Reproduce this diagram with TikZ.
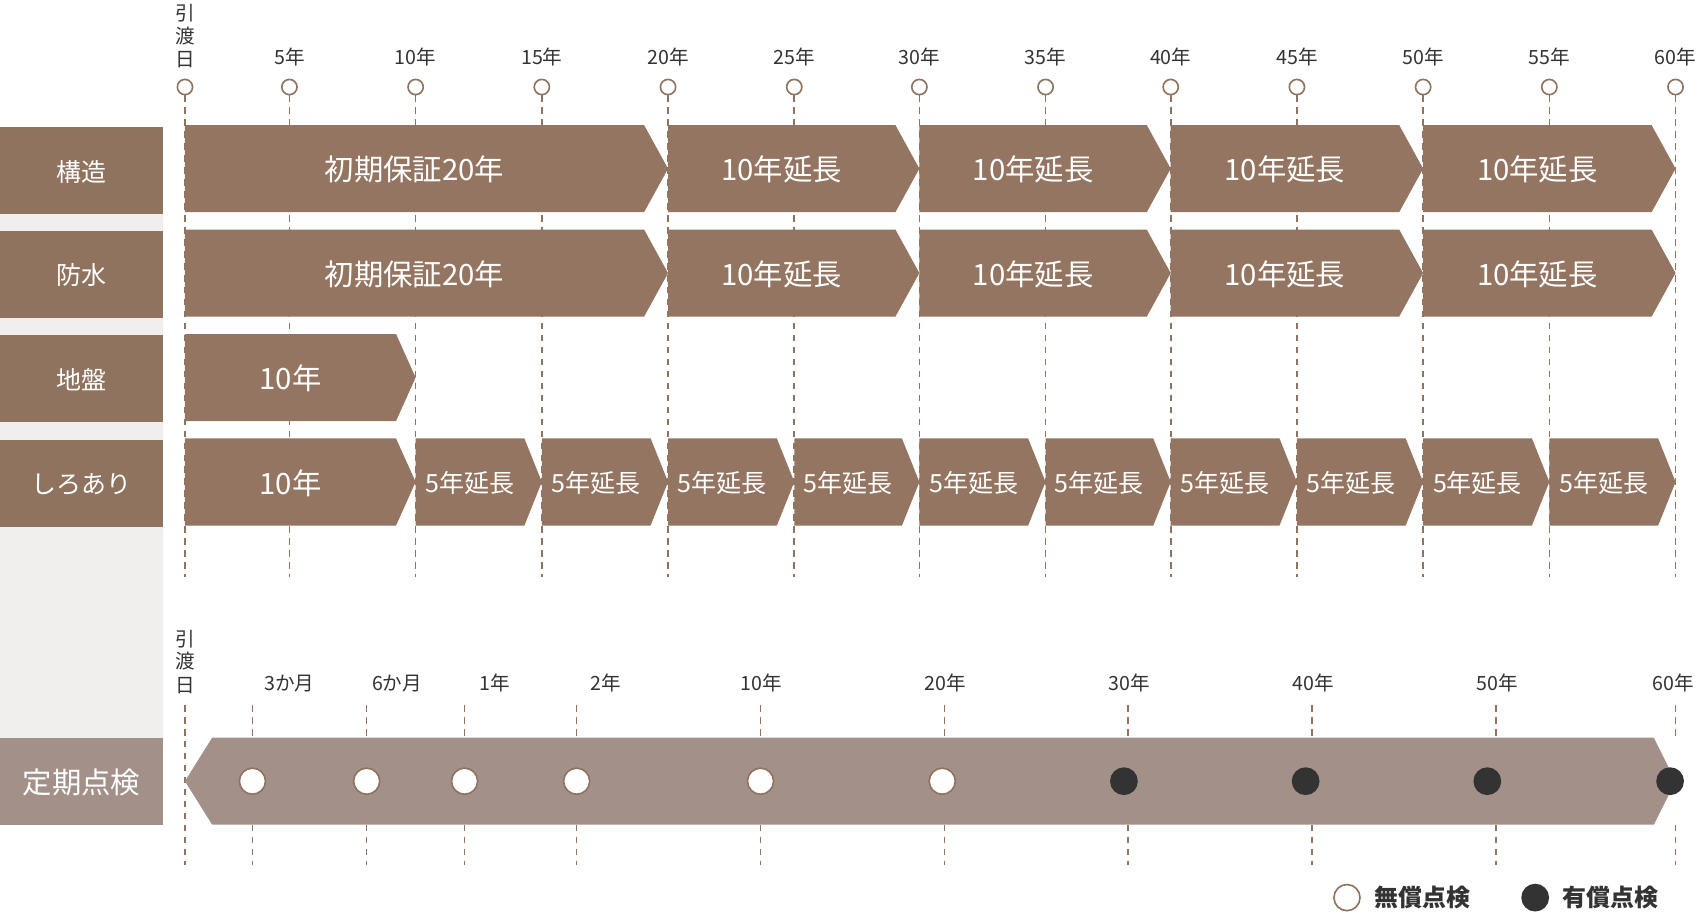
\documentclass[tikz,border=0pt]{standalone}
\usepackage{fontspec}
\setmainfont{Noto Sans CJK JP}
\definecolor{brn}{HTML}{937561}
\definecolor{lbl}{HTML}{8F735E}
\definecolor{pale}{HTML}{A39189}
\definecolor{bgg}{HTML}{F0EFED}
\definecolor{dk}{HTML}{333333}
\begin{document}
\begin{tikzpicture}[x=1pt,y=-1pt,
  dline/.style={lbl,line width=1.5pt,dash pattern=on 6pt off 5pt},
  tick/.style={text=dk,font=\fontsize{18}{18}\selectfont,inner sep=0},
  ring/.style={circle,draw=lbl,line width=1.5pt,fill=white,inner sep=0},
  dot/.style={circle,fill=dk,draw=dk,line width=1.5pt,inner sep=0},
  lab/.style={text=white,font=\fontsize{23}{23}\selectfont,inner sep=0},
  big/.style={text=white,font=\fontsize{27}{27}\selectfont,inner sep=0},
  mid/.style={text=white,font=\fontsize{23}{23}\selectfont,inner sep=0}]
\useasboundingbox (0,0) rectangle (1568,842);
\fill[white] (0,0) rectangle (1568,842);
\fill[bgg] (0,117) rectangle (150,758);
% top ticks
\def\xs{{170,266,382,498,614,730,845,961,1076,1192,1308,1424,1540}}
\foreach \i/\t in {1/5年,2/10年,3/15年,4/20年,5/25年,6/30年,7/35年,8/40年,9/45年,10/50年,11/55年,12/60年}{
  \pgfmathsetmacro\xx{\xs[\i]}
  \node[tick] (t\i) at (\xx,52) {\t};
}
\foreach \i in {0,...,12}{
  \pgfmathsetmacro\xx{\xs[\i]}
  \node[ring,minimum size=14pt] (c\i) at (\xx,80) {};
  \coordinate (e\i) at (\xx,530);
  \draw[dline] (c\i.south) -- (e\i);
}
\node[tick] (h1) at (170,12) {引};
\node[tick] (h2) at (170,33) {渡};
\node[tick] (h3) at (170,55) {日};
% labels
\foreach \n/\y/\t in {a/117/構造,b/212/防水,c/308/地盤,d/404/しろあり}{
  \fill[lbl] (0,\y) rectangle (150,\y+80);
  \node[lab] (L\n) at (75,\y+41) {\t};
}
% chevrons
\newcommand\chev[6]{% x1 x2 ytop tip style text
  \fill[brn] (#1,#3) -- (#2-#4,#3) -- (#2,#3+40) -- (#2-#4,#3+80) -- (#1,#3+80) -- cycle;
  \node[#5] at ({(#1+#2-#4)/2},#3+41) {#6};}
\foreach \y in {115,211}{
  \chev{170}{614}{\y}{22}{big}{初期保証20年}
  \chev{614}{845}{\y}{22}{big}{10年延長}
  \chev{845}{1076}{\y}{22}{big}{10年延長}
  \chev{1076}{1308}{\y}{22}{big}{10年延長}
  \chev{1308}{1540}{\y}{22}{big}{10年延長}
}
\chev{170}{382}{307}{18}{big}{10年}
\chev{170}{382}{403}{18}{big}{10年}
\foreach \i in {2,...,11}{
  \pgfmathsetmacro\xa{\xs[\i]}
  \pgfmathtruncatemacro\j{\i+1}
  \pgfmathsetmacro\xb{\xs[\j]}
  \chev{\xa}{\xb}{403}{16}{mid}{5年延長}
}
% bottom
\node[tick] (g1) at (170,587) {引};
\node[tick] (g2) at (170,608) {渡};
\node[tick] (g3) at (170,630) {日};
\coordinate (z0a) at (170,648); \coordinate (z0b) at (170,795);
\draw[dline] (z0a) -- (z0b);
\fill[pale] (0,678) rectangle (150,758);
\node[big] (LP) at (75,719) {定期点検};
\fill[pale] (170,718) -- (195,678) -- (1520,678) -- (1540,718) -- (1520,758) -- (195,758) -- cycle;
\foreach \k/\tx/\lx/\t/\cx/\s in {1/232/266/3か月/232/ring,2/337/365/6か月/337/ring,3/427/455/1年/427/ring,4/530/557/2年/530/ring,5/699/700/10年/699/ring,6/868/869/20年/866/ring,7/1037/1038/30年/1033/dot,8/1206/1207/40年/1200/dot,9/1375/1376/50年/1367/dot,10/1540/1538/60年/1535/dot}{
  \node[tick] (b\k) at (\lx,628) {\t};
  \coordinate (p\k) at (\tx,648); \coordinate (q\k) at (\tx,678);
  \coordinate (r\k) at (\tx,758); \coordinate (s\k) at (\tx,795);
  \draw[dline] (p\k) -- (q\k);
  \draw[dline] (r\k) -- (s\k);
  \node[\s,minimum size=24pt] (m\k) at (\cx,718) {};
}
% legend
\node[ring,minimum size=24pt] (lg1) at (1238,825) {};
\node[tick,anchor=west,font=\fontsize{22}{22}\selectfont\bfseries] (lt1) at (1263,825) {無償点検};
\node[dot,minimum size=24pt] (lg2) at (1411,825) {};
\node[tick,anchor=west,font=\fontsize{22}{22}\selectfont\bfseries] (lt2) at (1436,825) {有償点検};
\end{tikzpicture}
\end{document}
